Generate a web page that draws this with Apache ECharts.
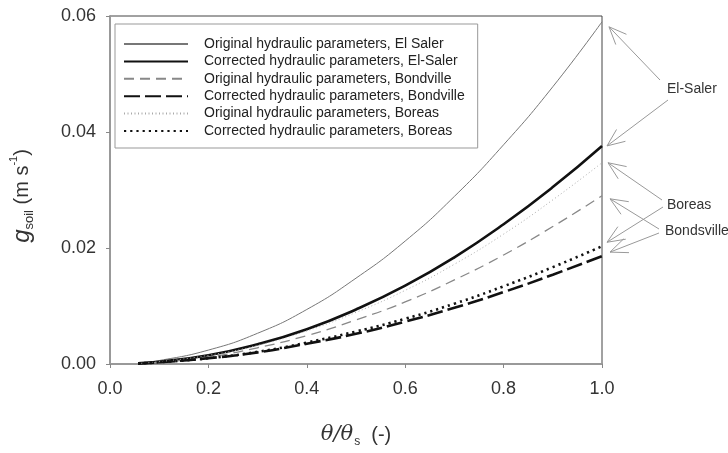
<!DOCTYPE html>
<html>
<head>
<meta charset="utf-8">
<script src="https://cdn.jsdelivr.net/npm/echarts@6/dist/echarts.min.js"></script>
<style>
  html, body { margin: 0; padding: 0; background: #fff; }
  #chart { width: 728px; height: 453px; }
</style>
</head>
<body>
<div id="chart"></div>
<script>
// relative soil moisture theta/theta_s
const theta = [0.057, 0.1, 0.2, 0.3, 0.4, 0.5, 0.6, 0.7, 0.8, 0.9, 1.0]
// g_soil (m s-1)
const origElSaler = [0.0002, 0.0006, 0.0024, 0.0053, 0.0094, 0.0148, 0.0212, 0.0289, 0.0378, 0.0478, 0.0590]
const corrElSaler = [0.0001, 0.0004, 0.0015, 0.0034, 0.0060, 0.0094, 0.0135, 0.0184, 0.0241, 0.0305, 0.0376]
const origBondville = [0.0001, 0.0003, 0.0012, 0.0028, 0.0049, 0.0076, 0.0107, 0.0145, 0.0188, 0.0237, 0.0290]
const corrBondville = [0.0001, 0.0003, 0.0010, 0.0020, 0.0035, 0.0052, 0.0073, 0.0097, 0.0124, 0.0154, 0.0186]
const origBoreas = [0.0001, 0.0004, 0.0015, 0.0032, 0.0057, 0.0089, 0.0127, 0.0172, 0.0224, 0.0283, 0.0347]
const corrBoreas = [0.0001, 0.0003, 0.0010, 0.0021, 0.0037, 0.0056, 0.0078, 0.0104, 0.0134, 0.0167, 0.0203]

const FONT = 'Liberation Sans, Arial, Helvetica, sans-serif'

function pairs (ys) {
  return theta.map((t, i) => [t, ys[i]])
}

const chart = echarts.init(document.getElementById('chart'))

function mkSeries (name, ys, color, width, type) {
  return {
    type: 'line',
    name: name,
    data: pairs(ys),
    smooth: true,
    symbol: 'none',
    lineStyle: { color: color, width: width, type: type },
    itemStyle: { color: color },
    emphasis: { disabled: true }
  }
}

chart.setOption({
  animation: false,
  grid: {
    left: 109.5,
    right: 126,
    top: 16,
    bottom: 83,
    show: true,
    borderColor: '#444',
    borderWidth: 1
  },
  legend: {
    orient: 'vertical',
    left: 115,
    top: 24,
    padding: [13, 13, 10, 8],
    itemWidth: 64,
    itemHeight: 10,
    itemGap: 3.4,
    borderColor: '#999',
    borderWidth: 1,
    selectedMode: false,
    itemStyle: { opacity: 0 },
    textStyle: { fontFamily: FONT, fontSize: 14, color: '#222', lineHeight: 14, padding: [0, 0, 0, 11] }
  },
  xAxis: {
    type: 'value',
    min: 0,
    max: 1,
    interval: 0.2,
    axisLine: { show: true, onZero: false, lineStyle: { color: '#999', width: 2 } },
    axisTick: { show: true, length: 4, lineStyle: { color: '#888' } },
    splitLine: { show: false },
    axisLabel: {
      fontFamily: FONT, fontSize: 18, color: '#333', margin: 16,
      formatter: v => v.toFixed(1)
    },
    name: '{th|θ/θ}{sub|s}{t|  (-)}',
    nameLocation: 'middle',
    nameGap: 58,
    nameTextStyle: {
      rich: {
        th: { fontFamily: 'DejaVu Serif, serif', fontStyle: 'italic', fontSize: 21, color: '#333', lineHeight: 26 },
        sub: { fontFamily: FONT, fontSize: 12, color: '#333', verticalAlign: 'bottom', lineHeight: 26, padding: [10, 0, 0, 1] },
        t: { fontFamily: FONT, fontSize: 20, color: '#333', lineHeight: 26 }
      }
    }
  },
  yAxis: {
    type: 'value',
    min: 0,
    max: 0.06,
    interval: 0.02,
    axisLine: { show: true, onZero: false, lineStyle: { color: '#999', width: 2 } },
    axisTick: { show: true, length: 4, lineStyle: { color: '#888' } },
    splitLine: { show: false },
    axisLabel: {
      fontFamily: FONT, fontSize: 18, color: '#333', margin: 14,
      formatter: v => v.toFixed(2)
    },
    name: '{g|g}{sub|soil}{t| (m s}{sup|-1}{t|)}',
    nameLocation: 'middle',
    nameRotate: 90,
    nameGap: 74,
    nameTextStyle: {
      padding: [0, 12, 0, 0],
      rich: {
        g: { fontFamily: FONT, fontStyle: 'italic', fontSize: 24, color: '#333', lineHeight: 28 },
        sub: { fontFamily: FONT, fontSize: 13, color: '#333', verticalAlign: 'bottom', lineHeight: 28, padding: [12, 0, 0, 0] },
        sup: { fontFamily: FONT, fontSize: 11, color: '#333', verticalAlign: 'top', lineHeight: 28, padding: [0, 0, 12, 0] },
        t: { fontFamily: FONT, fontSize: 20, color: '#333', lineHeight: 28 }
      }
    }
  },
  series: [
    mkSeries('Original hydraulic parameters, El Saler', origElSaler, '#777', 1, 'solid'),
    mkSeries('Corrected hydraulic parameters, El-Saler', corrElSaler, '#111', 2.6, 'solid'),
    mkSeries('Original hydraulic parameters, Bondville', origBondville, '#888', 1.3, [10, 6]),
    mkSeries('Corrected hydraulic parameters, Bondville', corrBondville, '#111', 2.6, [16, 5]),
    mkSeries('Original hydraulic parameters, Boreas', origBoreas, '#aaa', 1, [1, 2.5]),
    mkSeries('Corrected hydraulic parameters, Boreas', corrBoreas, '#111', 2.6, [2.2, 4])
  ]
})

// annotation arrows pointing to the curve ends at theta = 1
function endPx (ys) {
  return chart.convertToPixel({ gridIndex: 0 }, [1, ys[ys.length - 1]])
}

function arrow (from, tip) {
  const dx = tip[0] - from[0]
  const dy = tip[1] - from[1]
  const ang = Math.atan2(dy, dx)
  const len = 19
  const spread = 0.4
  const w1 = [tip[0] - len * Math.cos(ang - spread), tip[1] - len * Math.sin(ang - spread)]
  const w2 = [tip[0] - len * Math.cos(ang + spread), tip[1] - len * Math.sin(ang + spread)]
  const st = { stroke: '#999', lineWidth: 1, fill: null }
  return [
    { type: 'line', shape: { x1: from[0], y1: from[1], x2: tip[0], y2: tip[1] }, style: st, silent: true },
    { type: 'polyline', shape: { points: [w1, tip, w2] }, style: st, silent: true }
  ]
}

function off (p, dx, dy) {
  return [p[0] + dx, p[1] + dy]
}

const labelStyle = { fontFamily: FONT, fontSize: 14, fill: '#333' }
const els = []
  .concat(arrow([660, 80], off(endPx(origElSaler), 7, 5)))
  .concat(arrow([668, 100], off(endPx(corrElSaler), 5, 0)))
  .concat(arrow([662, 200], off(endPx(origBoreas), 6, 0)))
  .concat(arrow([663, 207], off(endPx(corrBoreas), 5, -4)))
  .concat(arrow([659, 229], off(endPx(origBondville), 8, 3)))
  .concat(arrow([659, 233], off(endPx(corrBondville), 8, -4)))

els.push({ type: 'text', left: 667, top: 82, style: Object.assign({ text: 'El-Saler' }, labelStyle), silent: true })
els.push({ type: 'text', left: 667, top: 198, style: Object.assign({ text: 'Boreas' }, labelStyle), silent: true })
els.push({ type: 'text', left: 665, top: 224, style: Object.assign({ text: 'Bondsville' }, labelStyle), silent: true })

chart.setOption({ graphic: els })
</script>
</body>
</html>
